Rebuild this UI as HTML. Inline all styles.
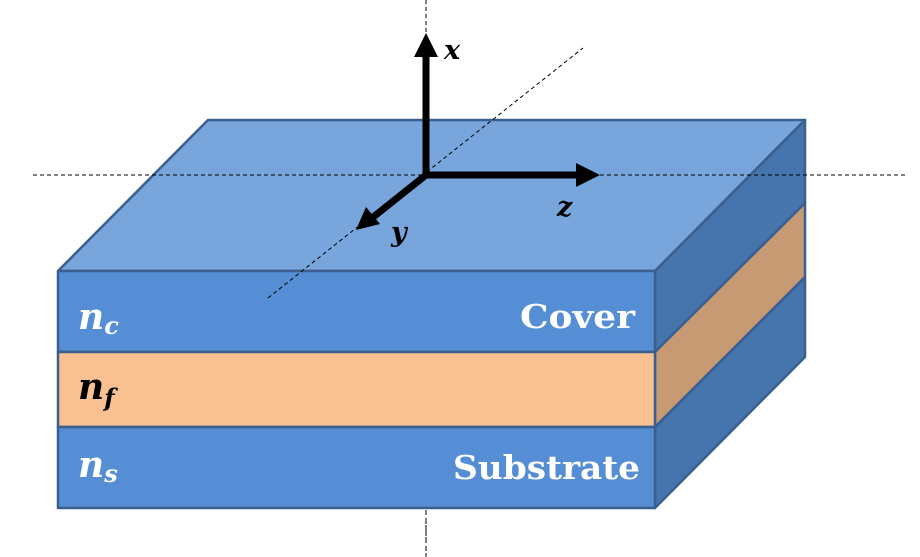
<!DOCTYPE html>
<html><head><meta charset="utf-8"><style>
html,body{margin:0;padding:0;background:#fff;}
svg{display:block;}
text{font-family:"DejaVu Serif","Liberation Serif",serif;font-weight:bold;}
</style></head><body>
<svg width="920" height="557" viewBox="0 0 920 557">
  <line x1="426" y1="0" x2="426" y2="557" stroke="#000" stroke-width="1" stroke-dasharray="4,3"/>
  <g stroke="#3b5f8e" stroke-width="2.5" stroke-linejoin="round">
    <polygon points="58,271 208,120 805,120 655,271" fill="#77a5dc"/>
    <polygon points="655,271 805,120 805,203 655,352" fill="#4674ad"/>
    <polygon points="655,352 805,203 805,277 655,427" fill="#c89a74"/>
    <polygon points="655,427 805,277 805,357 655,508" fill="#4674ad"/>
    <rect x="58" y="271" width="597" height="81" fill="#558ed5"/>
    <rect x="58" y="352" width="597" height="75" fill="#f9c191"/>
    <rect x="58" y="427" width="597" height="81" fill="#558ed5"/>
  </g>
  <line x1="426" y1="510" x2="426" y2="557" stroke="#000" stroke-width="1" stroke-dasharray="5,4"/>
  <line x1="33" y1="175" x2="905" y2="175" stroke="#000" stroke-width="1" stroke-dasharray="4,3"/>
  <line x1="268" y1="298" x2="583" y2="48" stroke="#000" stroke-width="1" stroke-dasharray="4,3"/>
  <g fill="#000" stroke="#000">
    <line x1="426" y1="178" x2="426" y2="54" stroke-width="7"/>
    <polygon points="426,33 414,57 438,57" stroke="none"/>
    <line x1="423" y1="175" x2="580" y2="175" stroke-width="7"/>
    <polygon points="600,175 576,163 576,187" stroke="none"/>
    <line x1="426" y1="175" x2="372" y2="218" stroke-width="7"/>
    <polygon points="356,230 366,207 380,224" stroke="none"/>
  </g>
  <text x="444" y="59" font-size="27" font-style="italic">x</text>
  <text x="557" y="216" font-size="27" font-style="italic">z</text>
  <text x="391" y="241" font-size="27" font-style="italic">y</text>
  <text x="78" y="329" font-size="36" font-style="italic" fill="#fff">n<tspan font-size="24" dy="5">c</tspan></text>
  <text x="78" y="399" font-size="36" font-style="italic" fill="#000">n<tspan font-size="24" dy="7">f</tspan></text>
  <text x="78" y="477" font-size="36" font-style="italic" fill="#fff">n<tspan font-size="24" dy="5">s</tspan></text>
  <text x="520" y="328" font-size="33" fill="#fff" textLength="115" lengthAdjust="spacingAndGlyphs">Cover</text>
  <text x="453" y="479" font-size="33" fill="#fff" textLength="187" lengthAdjust="spacingAndGlyphs">Substrate</text>
</svg>
</body></html>
